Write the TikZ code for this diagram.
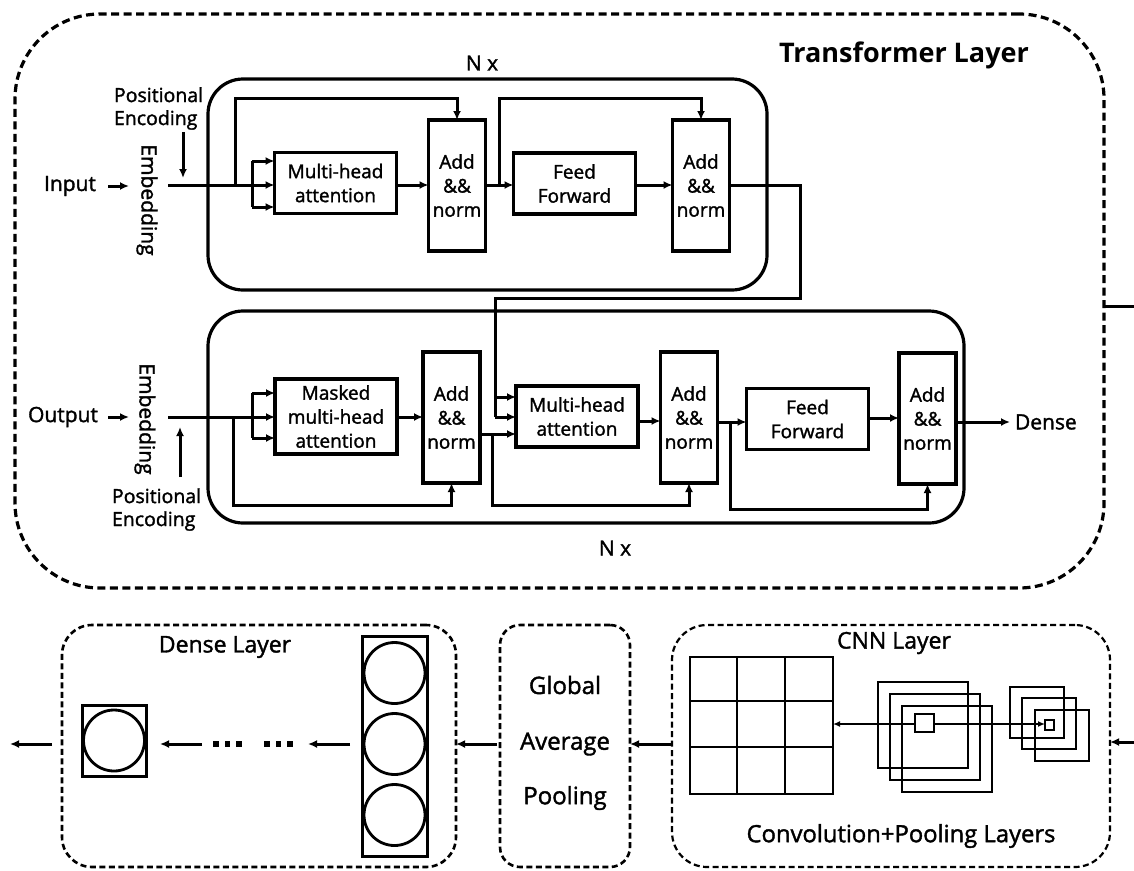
\documentclass[tikz,border=0pt]{standalone}
\usepackage{fontspec}
\setmainfont{Open Sans}[UprightFeatures={FakeBold=1.6}]
\usetikzlibrary{arrows.meta}
\begin{document}
\begin{tikzpicture}[x=1pt,y=-1pt,
  every node/.style={inner sep=0pt,outer sep=0pt},
  blk/.style={draw,line width=3.2pt,align=center,font=\fontsize{19}{24}\selectfont},
  addbox/.style={blk,minimum width=57pt,minimum height=131pt},
  opbox/.style={blk,minimum width=122pt,minimum height=61pt},
  wire/.style={line width=3pt},
  arr/.style={wire,-{Latex[length=9pt,width=8pt]}},
  thinarr/.style={line width=1.6pt,-{Latex[length=7pt,width=6pt]}},
  stackline/.style={line width=2.7pt},
  lbl/.style={font=\fontsize{21}{25}\selectfont},
  pe/.style={align=left,font=\fontsize{19.5}{23}\selectfont},
  seclbl/.style={font=\fontsize{23}{28}\selectfont},
  gaplbl/.style={font=\fontsize{24}{28}\selectfont},
  groupbox/.style={draw,line width=3.2pt,rounded corners=35pt},
  outerbox/.style={draw,line width=3.2pt,dash pattern=on 8pt off 4.5pt},
  panel/.style={draw,line width=2.6pt,dash pattern=on 6pt off 3.5pt},
  neuron/.style={draw,circle,line width=2.8pt,minimum size=61pt},
]
\fill[white] (0,0) rectangle (1134,870);
\useasboundingbox (0,0) rectangle (1134,870);

% ---------------- Transformer layer ----------------
\node[outerbox,rounded corners=85pt,minimum width=1089pt,minimum height=574pt] (tl) at (559.5,301) {};
\node[font=\fontsize{27}{32}\selectfont\bfseries] (tltitle) at (904,55) {Transformer Layer};

\node[groupbox,minimum width=559pt,minimum height=211pt] (enc) at (487.5,184.5) {};
\node[groupbox,minimum width=756pt,minimum height=212pt] (dec) at (586,417) {};
\node[lbl] (nenc) at (482,63) {N x};
\node[lbl] (ndec) at (615,548) {N x};

% encoder
\node[opbox] (mha1) at (335.5,183) {Multi-head\\attention};
\node[addbox] (add1) at (457,185.5) {Add\\\&\&\\norm};
\node[opbox] (ff1) at (574.5,183.5) {Feed\\Forward};
\node[addbox] (add2) at (701,185.5) {Add\\\&\&\\norm};

\node[lbl] (inp) at (70,186) {Input};
\node[lbl,rotate=-90] (emb1) at (147,200) {Embedding};
\node[pe,anchor=west] (pe1) at (114,108.5) {Positional\\Encoding};
\coordinate (inA) at (108,186);
\coordinate (inB) at (129,186);
\coordinate (pe1a) at (183,132);
\coordinate (pe1b) at (183,178);
\draw[arr] (inA) -- (inB);
\draw[arr] (pe1a) -- (pe1b);

\coordinate (e0) at (168,185);
\coordinate (ef) at (252,185);
\draw[wire] (e0) -- (ef);
\draw[wire] (252,161) -- (252,207);
\foreach \yy in {161,185,207} \draw[arr] (252,\yy) -- (mha1.west |- 0,\yy);
\draw[arr] (235,185) |- (add1.north |- 0,98) -- (add1.north);
\draw[arr] (mha1.east |- 0,185) -- (add1.west |- 0,185);
\draw[arr] (add1.east |- 0,185) -- (ff1.west |- 0,185);
\draw[arr] (499,185) |- (add2.north |- 0,98) -- (add2.north);
\draw[arr] (ff1.east |- 0,185) -- (add2.west |- 0,185);

% decoder
\node[blk,minimum width=122pt,minimum height=75pt] (mmha) at (336,416.5) {Masked\\multi-head\\attention};
\node[addbox] (add3) at (451.5,417.5) {Add\\\&\&\\norm};
\node[opbox] (mha2) at (577,416.5) {Multi-head\\attention};
\node[addbox] (add4) at (689,417.5) {Add\\\&\&\\norm};
\node[opbox] (ff2) at (807.5,419) {Feed\\Forward};
\node[addbox] (add5) at (927.5,418.5) {Add\\\&\&\\norm};
\node[lbl,anchor=west] (dense) at (1015,422) {Dense};

\node[lbl] (outp) at (63,417) {Output};
\node[lbl,rotate=-90] (emb2) at (145,419) {Embedding};
\node[pe,anchor=west] (pe2) at (112,509.5) {Positional\\Encoding};
\coordinate (outA) at (108,417);
\coordinate (outB) at (129,417);
\coordinate (pe2a) at (180,477);
\coordinate (pe2b) at (180,427);
\draw[arr] (outA) -- (outB);
\draw[arr] (pe2a) -- (pe2b);

\coordinate (d0) at (168,417);
\coordinate (df) at (252,417);
\draw[wire] (d0) -- (df);
\draw[wire] (252,393) -- (252,438);
\foreach \yy in {393,417,438} \draw[arr] (252,\yy) -- (mmha.west |- 0,\yy);
\draw[arr] (233,417) |- (add3.south |- 0,505) -- (add3.south);
\draw[arr] (mmha.east |- 0,417) -- (add3.west |- 0,417);

% encoder output feeds the second attention block
\draw[wire] (add2.east |- 0,185) -| (800,298) -| (495,417);
\draw[arr] (495,397) -- (mha2.west |- 0,397);
\draw[arr] (495,417) -- (mha2.west |- 0,417);

\draw[arr] (add3.east |- 0,434) -- (mha2.west |- 0,434);
\draw[arr] (492,434) |- (add4.south |- 0,505) -- (add4.south);
\draw[arr] (mha2.east |- 0,421) -- (add4.west |- 0,421);
\draw[arr] (add4.east |- 0,422) -- (ff2.west |- 0,422);
\draw[arr] (730,422) |- (add5.south |- 0,509) -- (add5.south);
\draw[arr] (ff2.east |- 0,418) -- (add5.west |- 0,418);
\draw[arr] (add5.east |- 0,422) -- ([xshift=-5pt]dense.west);

\coordinate (tlout) at (1134,306);
\draw[wire] (tl.east |- 0,306) -- (tlout);

% ---------------- Dense layer ----------------
\node[panel,rounded corners=30pt,minimum width=394pt,minimum height=242pt] (dl) at (259,746) {};
\node[seclbl] (dltitle) at (225,647) {Dense Layer};
\node[draw,line width=3pt,minimum width=65pt,minimum height=220pt] (col) at (394.5,746) {};
\node[neuron] (c1) at (394.5,673) {};
\node[neuron] (c2) at (394.5,744) {};
\node[neuron] (c3) at (394.5,815) {};
\node[draw,line width=3pt,minimum width=64pt,minimum height=71pt] (outbox) at (114,740.5) {};
\node[neuron] (outc) at (114,740.5) {};

% ellipsis between the dense layers
\foreach \xx in {216,227.5,239,267,278.5,290} \fill (\xx-2.8,741.2) rectangle (\xx+2.8,746.8);

\coordinate (colA) at (350,744);
\coordinate (colB) at (308,744);
\coordinate (dotA) at (202,744);
\coordinate (fin) at (10,744);
\draw[arr] (colA) -- (colB);
\draw[arr] (dotA) -- ([xshift=14pt]outbox.east |- 0,744);
\draw[arr] ([xshift=-10pt]dl.west |- 0,744) -- (fin);

% ---------------- Global average pooling ----------------
\node[panel,rounded corners=20pt,minimum width=130pt,minimum height=242pt] (gap) at (565,746) {};
\node[gaplbl] (g1) at (565,685) {Global};
\node[gaplbl] (g2) at (565,744) {Average};
\node[gaplbl] (g3) at (565,798) {Pooling};
\draw[arr] ([xshift=-3pt]gap.west |- 0,744) -- (dl.east |- 0,744);

% ---------------- CNN layer ----------------
\node[panel,line width=2.2pt,rounded corners=35pt,minimum width=438pt,minimum height=242pt] (cnn) at (891,746) {};
\node[seclbl] (cnntitle) at (894,643) {CNN Layer};
\node[seclbl,font=\fontsize{23.8}{28}\selectfont] (cnnsub) at (901,836) {Convolution+Pooling Layers};
\draw[arr] (cnn.west |- 0,744) -- (gap.east |- 0,744);
\coordinate (cnnin) at (1134,742);
\draw[arr] (cnnin) -- (cnn.east |- 0,742);

% output grid
\node[draw,line width=2.7pt,minimum width=143pt,minimum height=137pt] (grid) at (761.5,725.5) {};
\draw[stackline] (737,657) -- (737,794) (785,657) -- (785,794)
                 (690,701) -- (833,701) (690,747) -- (833,747);

% feature map stacks
\draw[stackline] (878,682) rectangle ++(90,86);
\draw[stackline] (890,694) rectangle ++(90,86);
\draw[stackline] (902,706) rectangle ++(90,86);
\node[draw,line width=2.7pt,minimum width=19pt,minimum height=18pt] (win1) at (924.5,723) {};

\draw[stackline] (1010,687) rectangle ++(54,51);
\draw[stackline] (1022,698) rectangle ++(54,51);
\draw[stackline] (1035,710) rectangle ++(54,51);
\node[draw,line width=2.3pt,minimum width=9pt,minimum height=10pt] (win2) at (1049.5,725) {};

\draw[thinarr] (win1.east |- 0,724) -- (win2.west |- 0,724);
\draw[thinarr] (win1.west |- 0,724) -- (grid.east |- 0,724);
\end{tikzpicture}
\end{document}
